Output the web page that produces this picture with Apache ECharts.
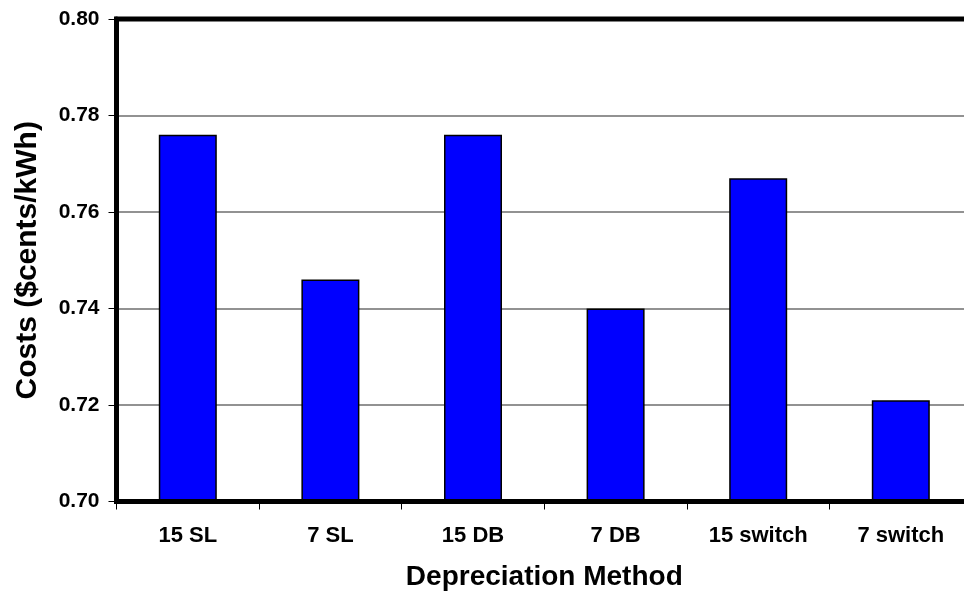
<!DOCTYPE html>
<html>
<head>
<meta charset="utf-8">
<script src="https://cdn.jsdelivr.net/npm/echarts@6/dist/echarts.min.js"></script>
<style>
  html, body { margin: 0; padding: 0; background: #fff; }
  #chart { width: 964px; height: 600px; }
</style>
</head>
<body>
<div id="chart"></div>
<script>
// Levelized cost by depreciation schedule
const categories = ['15 SL', '7 SL', '15 DB', '7 DB', '15 switch', '7 switch'];
const costs = [0.776, 0.746, 0.776, 0.740, 0.767, 0.721];
const yMin = 0.70;
const yMax = 0.80;
const yStep = 0.02;

const FONT = '"Liberation Sans", Arial, sans-serif';

const chart = echarts.init(document.getElementById('chart'), null, { renderer: 'canvas' });

chart.setOption({
  animation: false,
  backgroundColor: '#ffffff',
  grid: {
    left: 116.5,
    top: 19,
    width: 855.6,
    height: 482.5,
    outerBoundsMode: 'none',
    containLabel: false,
    show: true,
    backgroundColor: 'transparent',
    borderColor: '#000',
    borderWidth: 5
  },
  xAxis: {
    type: 'category',
    data: categories,
    z: 5,
    name: 'Depreciation Method',
    nameLocation: 'middle',
    nameGap: 62,
    nameTextStyle: { fontFamily: FONT, fontWeight: 'bold', fontSize: 28, color: '#000' },
    axisLine: { show: true, lineStyle: { color: '#000', width: 5 } },
    axisTick: { show: true, length: 8, lineStyle: { color: '#000', width: 1 } },
    axisLabel: { fontFamily: FONT, fontWeight: 'bold', fontSize: 22, color: '#000', margin: 23 },
    splitLine: { show: false }
  },
  yAxis: {
    type: 'value',
    min: yMin,
    max: yMax,
    interval: yStep,
    name: 'Costs ($cents/kWh)',
    nameLocation: 'middle',
    nameGap: 74,
    nameTextStyle: { fontFamily: FONT, fontWeight: 'bold', fontSize: 30, color: '#000' },
    axisLine: { show: true, lineStyle: { color: '#000', width: 5 } },
    axisTick: { show: true, length: 8, lineStyle: { color: '#000', width: 1 } },
    axisLabel: {
      fontFamily: FONT, fontWeight: 'bold', fontSize: 21, color: '#000', margin: 17,
      formatter: v => v.toFixed(2)
    },
    splitLine: {
      show: true,
      showMinLine: false,
      showMaxLine: false,
      lineStyle: { color: '#6e6e6e', width: 1.5 }
    }
  },
  series: [{
    type: 'bar',
    data: costs,
    barWidth: 58,
    itemStyle: { color: '#0000ff', borderColor: '#000', borderWidth: 1.5 }
  }]
});
</script>
</body>
</html>
